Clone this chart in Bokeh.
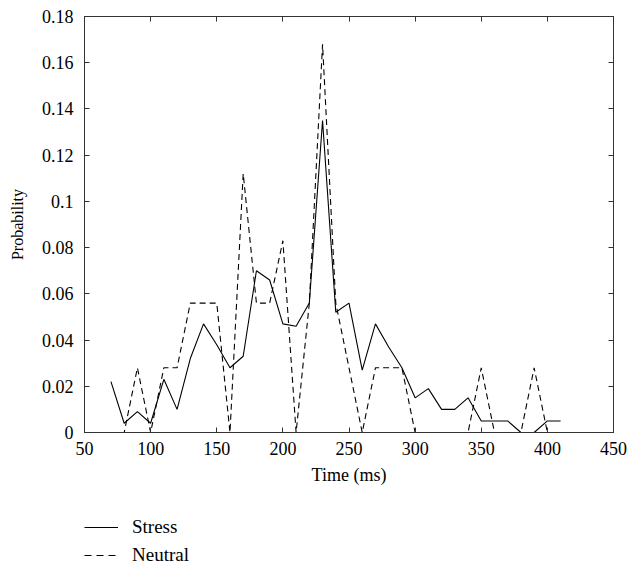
from bokeh.plotting import figure
from bokeh.layouts import column
from bokeh.models import LinearAxis, Range1d, FixedTicker, Legend, LegendItem
from bokeh.embed import file_html
from bokeh.resources import INLINE

time_ms = [70, 80, 90, 100, 110, 120, 130, 140, 150, 160, 170, 180, 190, 200,
           210, 220, 230, 240, 250, 260, 270, 280, 290, 300, 310, 320, 330,
           340, 350, 360, 370, 380, 390, 400, 410]
stress = [0.022, 0.004, 0.009, 0.004, 0.023, 0.010, 0.032, 0.047, 0.038, 0.028,
          0.033, 0.070, 0.066, 0.047, 0.046, 0.056, 0.135, 0.052, 0.056, 0.027,
          0.047, 0.037, 0.028, 0.015, 0.019, 0.010, 0.010, 0.015, 0.005, 0.005,
          0.005, 0.0, 0.0, 0.005, 0.005]
neutral = [0.0, 0.0, 0.028, 0.0, 0.028, 0.028, 0.056, 0.056, 0.056, 0.0,
           0.112, 0.056, 0.056, 0.083, 0.0, 0.056, 0.168, 0.056, 0.028, 0.0,
           0.028, 0.028, 0.028, 0.0, 0.0, 0.0, 0.0, 0.0, 0.028, 0.0,
           0.0, 0.0, 0.028, 0.0, 0.0]
x_ticks = [50, 100, 150, 200, 250, 300, 350, 400, 450]
y_ticks = [0, 0.02, 0.04, 0.06, 0.08, 0.1, 0.12, 0.14, 0.16, 0.18]
y_labels = {0: "0", 0.02: "0.02", 0.04: "0.04", 0.06: "0.06", 0.08: "0.08",
            0.1: "0.1", 0.12: "0.12", 0.14: "0.14", 0.16: "0.16", 0.18: "0.18"}
series_names = ["Stress", "Neutral"]

FONT = "Liberation Serif"
AX = "#333333"

p = figure(width=630, height=492, output_backend="svg", toolbar_location=None,
           x_range=Range1d(50, 450), y_range=Range1d(0, 0.18),
           min_border_left=84, min_border_right=17, min_border_top=16,
           min_border_bottom=60, x_axis_label="Time (ms)",
           y_axis_label="Probability")
p.grid.visible = False
p.outline_line_color = AX
p.background_fill_color = "white"
p.border_fill_color = "white"

p.line(time_ms, stress, line_color="black", line_width=1.1)
p.line(time_ms, neutral, line_color="black", line_width=1.1, line_dash="6 4")

def style(ax, labels=True):
    ax.major_tick_in = 5
    ax.major_tick_out = 0
    ax.minor_tick_in = 0
    ax.minor_tick_out = 0
    ax.axis_line_color = AX
    ax.major_tick_line_color = AX
    ax.major_label_text_font = FONT
    ax.major_label_text_font_size = "18px"
    ax.major_label_text_color = "black"
    ax.axis_label_text_font = FONT
    ax.axis_label_text_font_size = "18px"
    ax.axis_label_text_font_style = "normal"
    ax.axis_label_text_color = "black"
    if not labels:
        ax.major_label_text_font_size = "0px"

xa = p.xaxis[0]
xa.ticker = FixedTicker(ticks=x_ticks)
style(xa)
xa.major_label_standoff = 9
xa.axis_label_standoff = 7

ya = p.yaxis[0]
ya.ticker = FixedTicker(ticks=y_ticks)
ya.major_label_overrides = y_labels
style(ya)
ya.axis_label_text_font_size = "16px"
ya.major_label_standoff = 11
ya.axis_label_standoff = 13

top = LinearAxis(ticker=FixedTicker(ticks=x_ticks))
style(top, labels=False)
top.major_label_standoff = 0
p.add_layout(top, "above")
right = LinearAxis(ticker=FixedTicker(ticks=y_ticks))
style(right, labels=False)
right.major_label_standoff = 0
p.add_layout(right, "right")

# legend panel below the chart (its lines fall outside its own ranges)
q = figure(width=630, height=72, output_backend="svg", toolbar_location=None,
           x_range=Range1d(0, 1), y_range=Range1d(0, 1),
           min_border_left=84, min_border_right=17, min_border_top=0,
           min_border_bottom=0)
q.axis.visible = False
q.grid.visible = False
q.outline_line_color = None
lr1 = q.line(time_ms, stress, line_color="black", line_width=1.1)
lr2 = q.line(time_ms, neutral, line_color="black", line_width=1.1,
             line_dash="7 5")

legend = Legend(items=[LegendItem(label=series_names[0], renderers=[lr1]),
                       LegendItem(label=series_names[1], renderers=[lr2])],
                location=(0, -2), orientation="vertical")
legend.border_line_color = None
legend.background_fill_alpha = 0
legend.margin = 0
legend.padding = 0
legend.spacing = 6
legend.glyph_width = 34
legend.glyph_height = 22
legend.label_height = 22
legend.label_standoff = 14
legend.label_text_font = FONT
legend.label_text_font_size = "19px"
legend.label_text_color = "black"
q.add_layout(legend, "center")

open("out.html", "w").write(file_html(column(p, q, spacing=0), INLINE))
